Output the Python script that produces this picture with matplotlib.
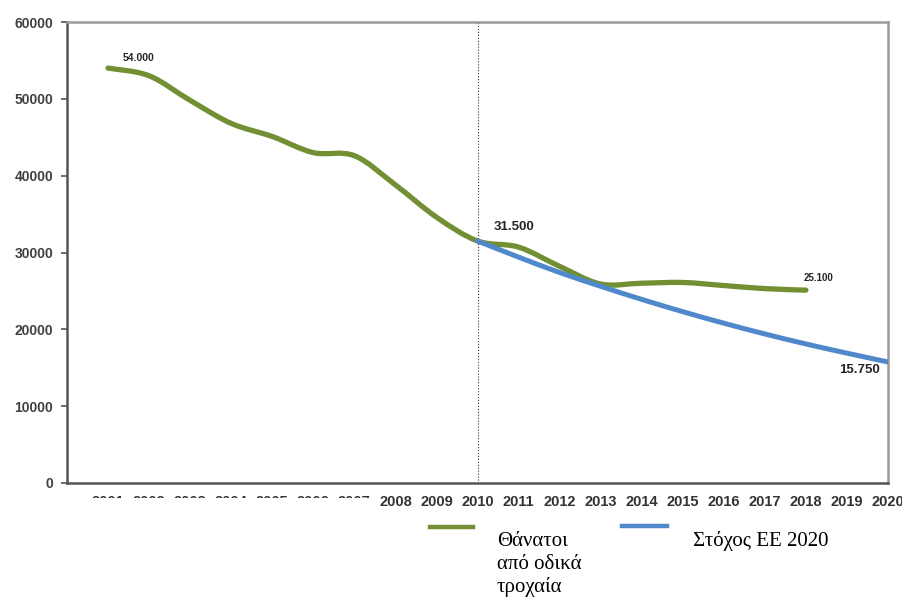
import matplotlib
matplotlib.use('Agg')
from matplotlib import pyplot as plt
from matplotlib.path import Path
from matplotlib.patches import PathPatch, Rectangle
from matplotlib.lines import Line2D
import numpy as np

# road deaths per year
years_deaths = list(range(2001, 2019))
deaths = [54000, 53000, 49800, 46800, 45100, 43000, 42600, 38800, 34600,
          31500, 30700, 28200, 25900, 26000, 26100, 25700, 25300, 25100]

# EU 2020 target path
years_target = list(range(2010, 2021))
target = [31500, 29400, 27400, 25600, 23900, 22300, 20800, 19400, 18100,
          16900, 15750]

year_labels = [str(y) for y in range(2001, 2021)]
y_ticks = [0, 10000, 20000, 30000, 40000, 50000, 60000]

value_labels = [('54.000', 2001.75, 55300, 7.5),
                ('31.500', 2010.9, 33300, 9.5),
                ('25.100', 2018.3, 26700, 7),
                ('15.750', 2019.3, 14700, 9.5)]

legend_green = ['Θάνατοι', 'από οδικά', 'τροχαία']
legend_blue = 'Στόχος ΕΕ 2020'

GREEN = '#728f33'
BLUE = '#5088cc'


def smooth_path(xs, ys):
    # cubic bezier through the points, like a spreadsheet "smoothed line"
    xs = np.asarray(xs, float)
    ys = np.asarray(ys, float)
    n = len(xs)
    verts = [(xs[0], ys[0])]
    codes = [Path.MOVETO]
    for i in range(n - 1):
        i0 = max(i - 1, 0)
        i3 = min(i + 2, n - 1)
        c1 = (xs[i] + (xs[i + 1] - xs[i0]) / 6, ys[i] + (ys[i + 1] - ys[i0]) / 6)
        c2 = (xs[i + 1] - (xs[i3] - xs[i]) / 6, ys[i + 1] - (ys[i3] - ys[i]) / 6)
        verts += [c1, c2, (xs[i + 1], ys[i + 1])]
        codes += [Path.CURVE4] * 3
    return Path(verts, codes)


fig = plt.figure(figsize=(9.03, 6.01), dpi=100)
ax = fig.add_axes([67 / 903, 1 - 483 / 601, 821 / 903, 461 / 601])

ax.set_xlim(2000, 2020)
ax.set_ylim(0, 60000)

ax.axvline(2010, color='#333333', lw=0.8, ls=':', zorder=1)

ax.add_patch(PathPatch(smooth_path(years_deaths, deaths), fill=False,
                       edgecolor=GREEN, lw=3.8, capstyle='round', zorder=3))
ax.add_patch(PathPatch(smooth_path(years_target, target), fill=False,
                       edgecolor=BLUE, lw=3.6, capstyle='round', zorder=4))

for txt, x, y, fs in value_labels:
    ax.text(x, y, txt, ha='center', va='center', fontsize=fs,
            fontweight='bold', family='Liberation Sans', color='#262626')

ax.set_yticks(y_ticks)
ax.set_yticklabels([str(v) for v in y_ticks])
ax.set_xticks(range(2001, 2021))
ax.set_xticklabels(year_labels)
ax.tick_params(axis='y', length=4, width=1.2, color='#555555', pad=6,
               labelsize=10, labelcolor='#404040')
ax.tick_params(axis='x', length=0, pad=9, labelsize=10.5, labelcolor='#333333')
for lab in ax.get_xticklabels() + ax.get_yticklabels():
    lab.set_family('Liberation Sans')
    lab.set_fontweight('bold')

for side in ['left', 'bottom']:
    ax.spines[side].set_color('#555555')
    ax.spines[side].set_linewidth(1.8)
for side in ['top', 'right']:
    ax.spines[side].set_color('#9a9a9a')
    ax.spines[side].set_linewidth(1.8)

# lower half of the early year labels is hidden
fig.add_artist(Rectangle((85 / 903, 1 - 514 / 601), 290 / 903, 16 / 601,
                         transform=fig.transFigure, facecolor='white',
                         edgecolor='none', zorder=10))

# legend
fig.add_artist(Line2D([430 / 903, 473 / 903], [1 - 527 / 601] * 2,
                      color=GREEN, lw=3.2, transform=fig.transFigure))
fig.add_artist(Line2D([622 / 903, 667 / 903], [1 - 526 / 601] * 2,
                      color=BLUE, lw=3.2, transform=fig.transFigure))
for k, line in enumerate(legend_green):
    fig.text(497 / 903, 1 - (546 + 23 * k) / 601, line, ha='left',
             va='baseline', fontsize=15, family='Liberation Serif',
             color='black')
fig.text(693 / 903, 1 - 546 / 601, legend_blue, ha='left', va='baseline',
         fontsize=15, family='Liberation Serif', color='black')

fig.savefig('out.png', dpi=100, facecolor='white')
